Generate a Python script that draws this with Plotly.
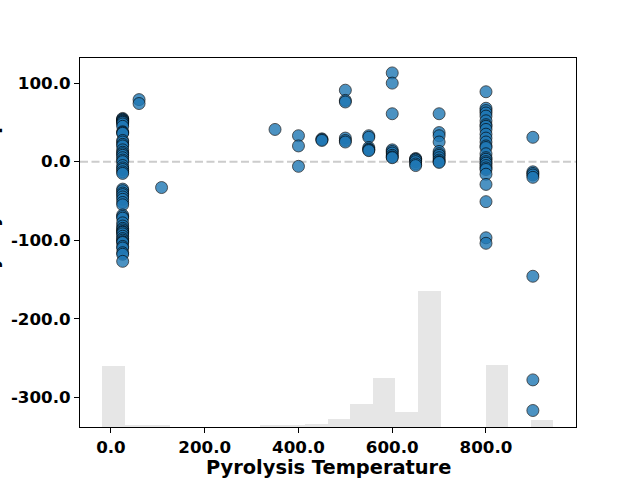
import plotly.graph_objects as go

# ---- data ----
temperature_levels = [25, 60, 108, 350, 400, 450, 500, 550, 600, 650, 700, 800, 900]
shap_values_by_level = [
    [55, 54, 53, 52, 51, 50, 48, 45, 38, 37, 36, 27, 25, 22, 20, 15, 12, 10, 8, 5, 2, 0,
     -5, -8, -10, -13, -15, -35, -37, -40, -42, -45, -48, -52, -55, -68, -70, -72, -78,
     -82, -85, -87, -89, -90, -92, -95, -98, -100, -102, -103, -108, -110, -116, -118, -127],
    [79, 74],
    [-33],
    [41],
    [33, 20, -6],
    [29, 28, 27],
    [91, 78, 76, 30, 27, 25],
    [33, 31, 18, 16, 15, 14],
    [113, 100, 61, 15, 13, 11, 8, 6, 5],
    [4, 3, 2, 0, -3, -5],
    [61, 37, 33, 25, 13, 10, 8, 5, 2, 0, -1],
    [89, 68, 65, 62, 58, 52, 47, 45, 41, 35, 30, 25, 20, 18, 10, 5, 3, 0, -2, -5, -8,
     -10, -16, -29, -51, -97, -104],
    [31, -13, -15, -17, -20, -146, -278, -317],
]

hist_bin_left = [-18.75, 29.375, 77.5, 125.625, 173.75, 221.875, 270.0, 318.125, 366.25,
                 414.375, 462.5, 510.625, 558.75, 606.875, 655.0, 703.125, 751.25,
                 799.375, 847.5, 895.625]
hist_bin_width = 48.125
hist_counts = [58, 1, 1, 0, 0, 0, 0, 1, 2, 3, 8, 22, 47, 14, 130, 0, 0, 59, 0, 7]
hist_total = 353

x_ticks = [0, 200, 400, 600, 800]
x_tick_labels = ["0.0", "200.0", "400.0", "600.0", "800.0"]
y_ticks = [-300, -200, -100, 0, 100]
y_tick_labels = ["-300.0", "-200.0", "-100.0", "0.0", "100.0"]

x_label = "Pyrolysis Temperature"
y_label = "SHAP value for Pyrolysis Temperature"

# ---- build ----
xs, ys = [], []
for t, vals in zip(temperature_levels, shap_values_by_level):
    xs += [t] * len(vals)
    ys += vals

centers = [b + hist_bin_width / 2 for b in hist_bin_left]

tickfont = dict(family="DejaVu Sans", size=16.7, color="black", weight="bold")
labelfont = dict(family="DejaVu Sans", size=19.4, color="black", weight="bold")

fig = go.Figure()
fig.add_trace(go.Bar(
    x=centers, y=hist_counts, width=hist_bin_width,
    marker=dict(color="#e6e6e6", line=dict(width=0)),
    yaxis="y", hoverinfo="skip", showlegend=False,
))
fig.add_trace(go.Scatter(
    x=xs, y=ys, mode="markers", yaxis="y2",
    marker=dict(size=12, color="#1f77b4", opacity=0.8,
                line=dict(color="black", width=0.8)),
    showlegend=False,
))

fig.add_shape(type="line", xref="paper", x0=0, x1=1, yref="y2", y0=0, y1=0,
              line=dict(color="#cccccc", width=2, dash="8px,3.5px"), layer="below")

fig.add_annotation(text=x_label, xref="paper", yref="paper", x=0.5, y=-0.111,
                   xanchor="center", yanchor="middle", showarrow=False, font=labelfont)
fig.add_annotation(text=y_label, xref="paper", yref="paper", x=(5 - 80) / 496,
                   y=0.5 - 4 / 369,
                   xanchor="right", yanchor="middle", textangle=-90,
                   showarrow=False, font=labelfont)

fig.update_layout(
    width=640, height=480,
    margin=dict(l=80, r=64, t=58, b=53, autoexpand=False),
    paper_bgcolor="white", plot_bgcolor="white",
    bargap=0,
    xaxis=dict(range=[-66, 992], tickvals=x_ticks, ticktext=x_tick_labels,
               ticks="outside", ticklen=5, tickwidth=1.1, tickcolor="black",
               showline=True, linecolor="black", linewidth=1.1, mirror=True,
               showgrid=False, zeroline=False, tickfont=tickfont, automargin=False),
    yaxis=dict(range=[0, hist_total], visible=False, fixedrange=True),
    yaxis2=dict(range=[-338, 132], tickvals=y_ticks, ticktext=y_tick_labels,
                overlaying="y", side="left",
                ticks="outside", ticklen=5, tickwidth=1.1, tickcolor="black",
                showline=True, linecolor="black", linewidth=1.1, mirror=True,
                showgrid=False, zeroline=False, tickfont=tickfont, automargin=False),
)

fig.write_html("out.html")
